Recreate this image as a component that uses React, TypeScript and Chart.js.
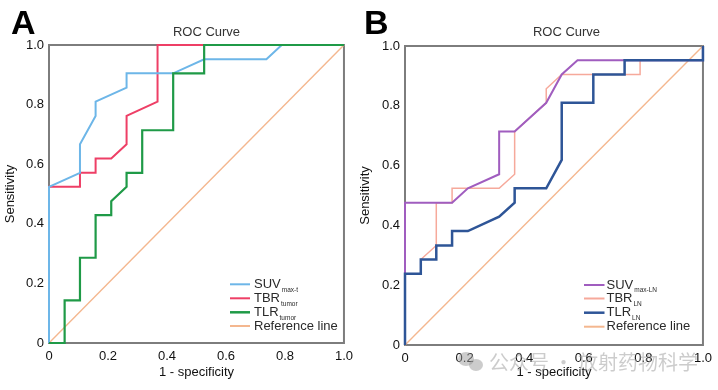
import React, { useEffect, useRef } from "react";
import { Chart, registerables } from "chart.js";

Chart.register(...registerables);

// ---------- data ----------
const tickValues = [0, 0.2, 0.4, 0.6, 0.8, 1.0];
const tickLabels = ["0", "0.2", "0.4", "0.6", "0.8", "1.0"];

// Panel A
const suvTX = [0, 0, 0.105, 0.105, 0.158, 0.158, 0.263, 0.263, 0.421, 0.526, 0.737, 0.789, 1.0];
const suvTY = [0, 0.524, 0.571, 0.667, 0.762, 0.81, 0.857, 0.905, 0.905, 0.952, 0.952, 1.0, 1.0];

const tbrTX = [0, 0, 0.105, 0.105, 0.158, 0.158, 0.211, 0.263, 0.263, 0.368, 0.368, 1.0];
const tbrTY = [0, 0.524, 0.524, 0.571, 0.571, 0.619, 0.619, 0.667, 0.762, 0.81, 1.0, 1.0];

const tlrTX = [0, 0.053, 0.053, 0.105, 0.105, 0.158, 0.158, 0.211, 0.211, 0.263, 0.263, 0.316, 0.316, 0.421, 0.421, 0.526, 0.526, 1.0];
const tlrTY = [0, 0, 0.143, 0.143, 0.286, 0.286, 0.429, 0.429, 0.476, 0.524, 0.571, 0.571, 0.714, 0.714, 0.905, 0.905, 1.0, 1.0];

// Panel B
const suvLX = [0, 0, 0.158, 0.211, 0.316, 0.316, 0.368, 0.474, 0.526, 0.579, 1.0, 1.0];
const suvLY = [0, 0.476, 0.476, 0.524, 0.571, 0.714, 0.714, 0.81, 0.905, 0.952, 0.952, 1.0];

const tbrLX = [0, 0, 0.053, 0.053, 0.105, 0.105, 0.158, 0.158, 0.316, 0.368, 0.368, 0.474, 0.474, 0.526, 0.789, 0.789, 1.0, 1.0];
const tbrLY = [0, 0.238, 0.238, 0.286, 0.333, 0.476, 0.476, 0.524, 0.524, 0.571, 0.714, 0.81, 0.857, 0.905, 0.905, 0.952, 0.952, 1.0];

const tlrLX = [0, 0, 0.053, 0.053, 0.105, 0.105, 0.158, 0.158, 0.211, 0.316, 0.368, 0.368, 0.474, 0.526, 0.526, 0.632, 0.632, 0.737, 0.737, 1.0, 1.0];
const tlrLY = [0, 0.238, 0.238, 0.286, 0.286, 0.333, 0.333, 0.381, 0.381, 0.429, 0.476, 0.524, 0.524, 0.619, 0.81, 0.81, 0.905, 0.905, 0.952, 0.952, 1.0];

const refX = [0, 1];
const refY = [0, 1];

const FONT = "'Liberation Sans', Arial, Helvetica, sans-serif";

const pts = (xs: number[], ys: number[]) => xs.map((x, i) => ({ x, y: ys[i] }));

type LegendItem = { color: string; width: number; main: string; sub: string };

type PanelCfg = {
  letter: string;
  letterX: number;
  titleX: number;
  padLeftW: number;
  padRight: number;
  padTop: number;
  xAxisH: number;
  yTitlePad: number;
  datasets: any[];
  legend: LegendItem[];
  legendLineX1: number;
  legendLineX2: number;
  legendTextX: number;
  legendY: number[];
  watermark?: boolean;
};

const REF_COLOR = "#f4b78f";

const panelA: PanelCfg = {
  letter: "A",
  letterX: 11,
  titleX: 206.5,
  padLeftW: 49,
  padRight: 13,
  padTop: 45,
  xAxisH: 47,
  yTitlePad: 2.5,
  datasets: [
    { label: "TLR", data: pts(tlrTX, tlrTY), borderColor: "#1f9a47", borderWidth: 2.2, order: 0 },
    { label: "SUV", data: pts(suvTX, suvTY), borderColor: "#6db6e8", borderWidth: 2, order: 1 },
    { label: "TBR", data: pts(tbrTX, tbrTY), borderColor: "#ee3f66", borderWidth: 2, order: 2 },
    { label: "Ref", data: pts(refX, refY), borderColor: REF_COLOR, borderWidth: 1.4, order: 3 },
  ],
  legend: [
    { color: "#6db6e8", width: 2, main: "SUV", sub: "max-t" },
    { color: "#ee3f66", width: 2, main: "TBR", sub: "tumor" },
    { color: "#1f9a47", width: 2.5, main: "TLR", sub: "tumor" },
    { color: REF_COLOR, width: 2, main: "Reference line", sub: "" },
  ],
  legendLineX1: 230,
  legendLineX2: 250,
  legendTextX: 254,
  legendY: [284.3, 298.3, 312.3, 326],
};

const panelB: PanelCfg = {
  letter: "B",
  letterX: 5,
  titleX: 207.5,
  padLeftW: 46,
  padRight: 15,
  padTop: 46,
  xAxisH: 45,
  yTitlePad: -1,
  datasets: [
    { label: "TLR", data: pts(tlrLX, tlrLY), borderColor: "#2e5597", borderWidth: 2.5, order: 0 },
    { label: "SUV", data: pts(suvLX, suvLY), borderColor: "#a05dbf", borderWidth: 2, order: 1 },
    { label: "TBR", data: pts(tbrLX, tbrLY), borderColor: "#f6a99b", borderWidth: 1.5, order: 2 },
    { label: "Ref", data: pts(refX, refY), borderColor: REF_COLOR, borderWidth: 1.4, order: 3 },
  ],
  legend: [
    { color: "#a05dbf", width: 2, main: "SUV", sub: "max-LN" },
    { color: "#f6a99b", width: 2, main: "TBR", sub: "LN" },
    { color: "#2e5597", width: 2.5, main: "TLR", sub: "LN" },
    { color: REF_COLOR, width: 2, main: "Reference line", sub: "" },
  ],
  legendLineX1: 225,
  legendLineX2: 245.5,
  legendTextX: 247.5,
  legendY: [285, 298.5, 312.7, 326.7],
  watermark: true,
};

function makeConfig(p: PanelCfg): any {
  const framePlugin = {
    id: "frame",
    beforeDatasetsDraw(chart: any) {
      const { ctx, chartArea: a } = chart;
      ctx.save();
      ctx.strokeStyle = "#7d7d7d";
      ctx.lineWidth = 2;
      ctx.strokeRect(a.left, a.top, a.right - a.left, a.bottom - a.top);
      ctx.restore();
    },
  };
  const decorPlugin = {
    id: "decor",
    afterDraw(chart: any) {
      const { ctx } = chart;
      ctx.save();
      ctx.fillStyle = "#000";
      ctx.font = `bold 34px ${FONT}`;
      ctx.textAlign = "left";
      ctx.textBaseline = "alphabetic";
      ctx.fillText(p.letter, p.letterX, 34.3);
      ctx.fillStyle = "#333";
      ctx.font = `13px ${FONT}`;
      ctx.textAlign = "center";
      ctx.textBaseline = "middle";
      ctx.fillText("ROC Curve", p.titleX, 32.5);
      p.legend.forEach((it, i) => {
        const y = p.legendY[i];
        ctx.strokeStyle = it.color;
        ctx.lineWidth = it.width;
        ctx.beginPath();
        ctx.moveTo(p.legendLineX1, y);
        ctx.lineTo(p.legendLineX2, y);
        ctx.stroke();
        ctx.fillStyle = "#2a2a2a";
        ctx.font = `13px ${FONT}`;
        ctx.textAlign = "left";
        ctx.textBaseline = "middle";
        ctx.fillText(it.main, p.legendTextX, y);
        if (it.sub) {
          const w = ctx.measureText(it.main).width;
          ctx.font = `6.5px ${FONT}`;
          ctx.fillText(it.sub, p.legendTextX + w + 1, y + 5.5);
        }
      });
      if (p.watermark) {
        ctx.globalAlpha = 0.5;
        ctx.fillStyle = "#9a9a9a";
        ctx.beginPath();
        ctx.ellipse(107, 359, 8, 7, 0, 0, Math.PI * 2);
        ctx.fill();
        ctx.beginPath();
        ctx.ellipse(117, 365, 7, 6, 0, 0, Math.PI * 2);
        ctx.fill();
        ctx.font = `20px 'Noto Sans CJK SC', sans-serif`;
        ctx.textAlign = "left";
        ctx.textBaseline = "middle";
        ctx.fillText("公众号 · 放射药物科学", 130, 362);
      }
      ctx.restore();
    },
  };

  const tickFont = { family: FONT, size: 13 };
  return {
    type: "line",
    data: {
      datasets: p.datasets.map((d) => ({
        ...d,
        pointRadius: 0,
        pointHoverRadius: 0,
        tension: 0,
        fill: false,
        clip: false,
        borderJoinStyle: "miter",
        borderCapStyle: "butt",
      })),
    },
    options: {
      responsive: false,
      animation: false,
      events: [],
      layout: { padding: { left: 0, right: p.padRight, top: p.padTop, bottom: 0 } },
      plugins: { legend: { display: false }, tooltip: { enabled: false }, title: { display: false } },
      scales: {
        x: {
          type: "linear",
          min: 0,
          max: 1,
          grid: { display: false, drawTicks: false },
          border: { display: false },
          afterBuildTicks: (s: any) => {
            s.ticks = tickValues.map((v) => ({ value: v }));
          },
          afterFit: (s: any) => {
            s.height = p.xAxisH;
          },
          ticks: {
            autoSkip: false,
            maxRotation: 0,
            padding: 6,
            color: "#111",
            font: tickFont,
            callback: (_v: any, i: number) => tickLabels[i],
          },
          title: {
            display: true,
            text: "1 - specificity",
            color: "#111",
            font: tickFont,
            padding: { top: 0, bottom: 9.5 },
          },
        },
        y: {
          type: "linear",
          min: 0,
          max: 1,
          grid: { display: false, drawTicks: false },
          border: { display: false },
          afterBuildTicks: (s: any) => {
            s.ticks = tickValues.map((v) => ({ value: v }));
          },
          afterFit: (s: any) => {
            s.width = p.padLeftW;
          },
          ticks: {
            autoSkip: false,
            padding: 5,
            color: "#111",
            font: tickFont,
            callback: (_v: any, i: number) => tickLabels[i],
          },
          title: {
            display: true,
            text: "Sensitivity",
            color: "#111",
            font: tickFont,
            padding: { top: p.yTitlePad, bottom: 0 },
          },
        },
      },
    },
    plugins: [framePlugin, decorPlugin],
  };
}

function Panel({ cfg, left }: { cfg: PanelCfg; left: number }) {
  const ref = useRef<HTMLCanvasElement | null>(null);
  useEffect(() => {
    if (!ref.current) return;
    const chart = new Chart(ref.current, makeConfig(cfg));
    return () => chart.destroy();
  }, [cfg]);
  return (
    <canvas
      ref={ref}
      width={359}
      height={390}
      style={{ position: "absolute", left, top: 0, width: 359, height: 390, display: "block" }}
    />
  );
}

export default function App() {
  return (
    <div style={{ position: "absolute", left: 0, top: 0, width: 718, height: 390, background: "#fff" }}>
      <Panel cfg={panelA} left={0} />
      <Panel cfg={panelB} left={359} />
    </div>
  );
}
